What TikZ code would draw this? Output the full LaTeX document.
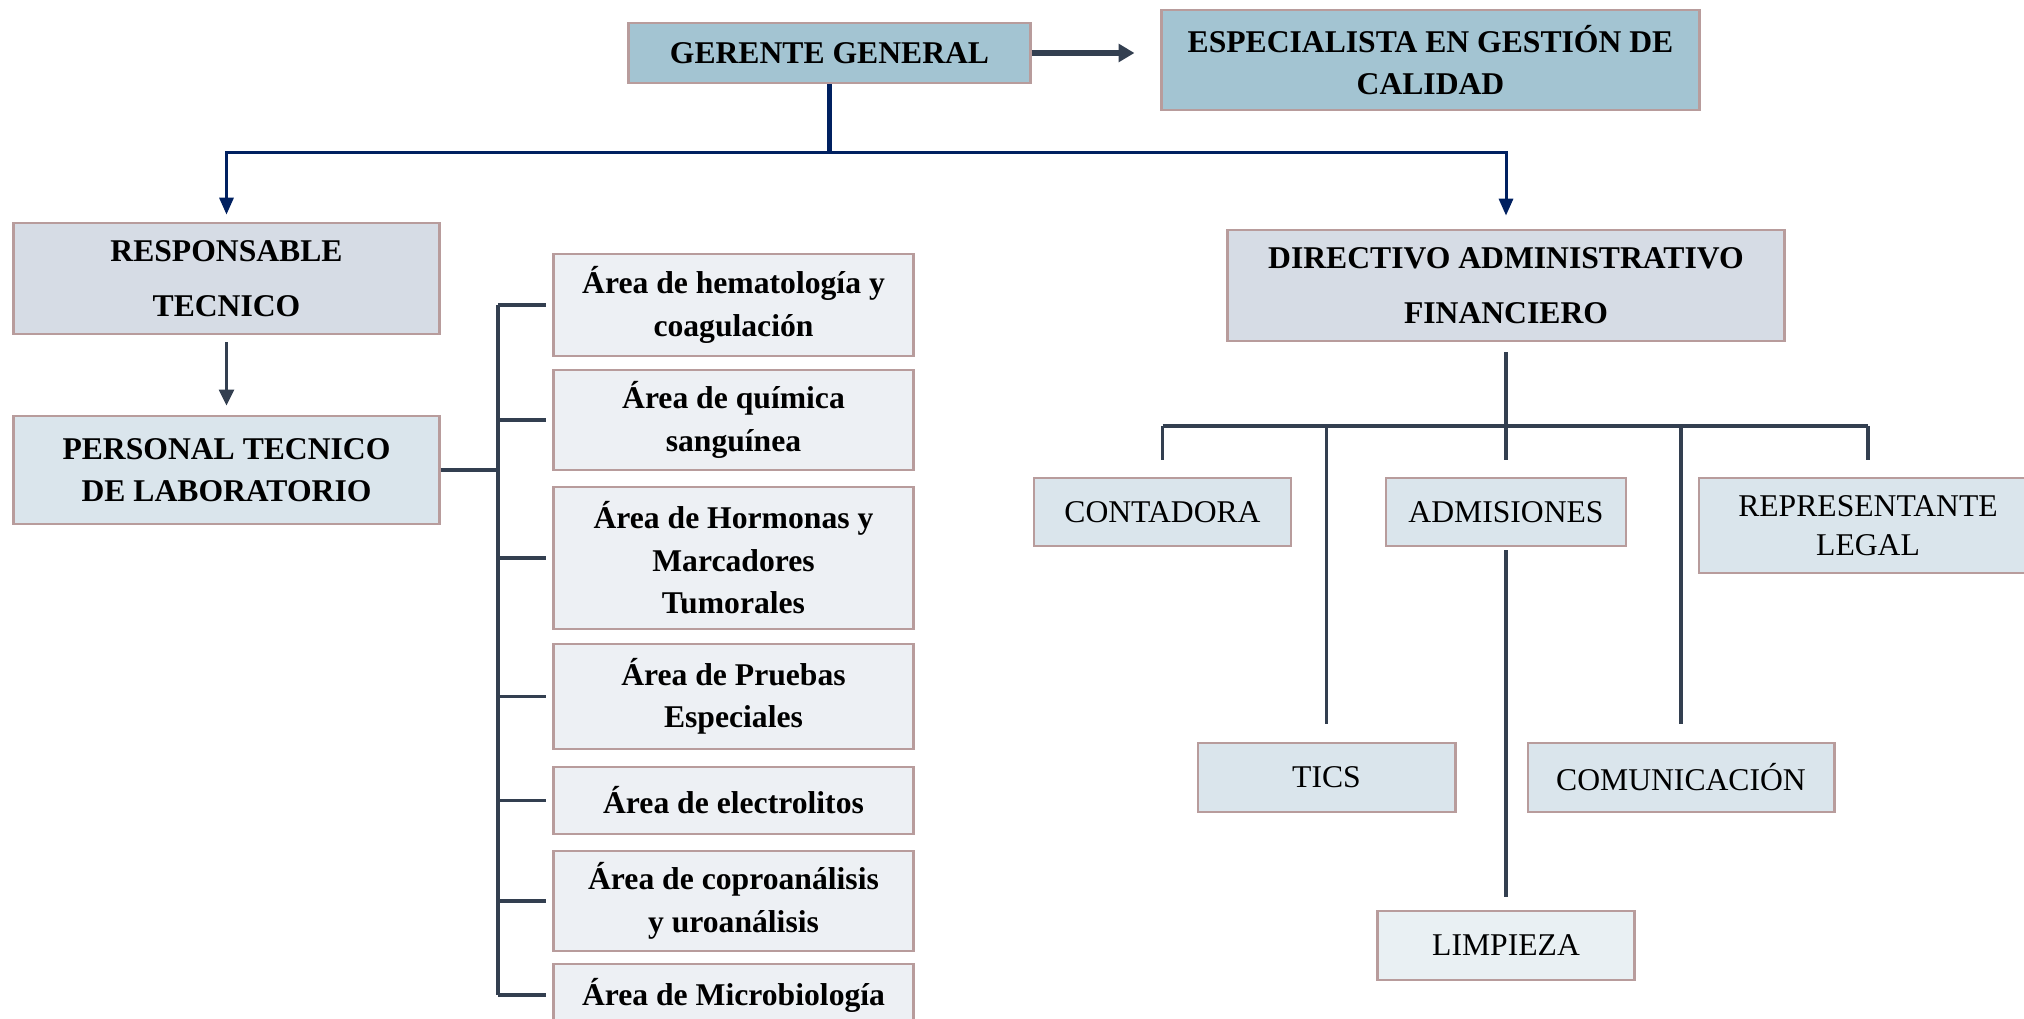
\documentclass[tikz,border=0pt]{standalone}
\usepackage{fontspec}
\setmainfont{Liberation Serif}
\usetikzlibrary{arrows.meta,positioning,calc}
\definecolor{OrgRim}{HTML}{B89C9C}
\definecolor{OrgTop}{HTML}{A3C4D2}
\definecolor{OrgHead}{HTML}{D6DCE5}
\definecolor{OrgMid}{HTML}{DAE5EC}
\definecolor{OrgArea}{HTML}{EDF0F4}
\definecolor{OrgLow}{HTML}{E9F0F3}
\definecolor{OrgSlate}{HTML}{333F50}
\definecolor{OrgNavy}{HTML}{002060}

\begin{document}
\begin{tikzpicture}[x=0.01cm,y=-0.01cm,
  orgbox/.style={draw=OrgRim,line width=0.8pt,align=center,inner sep=0pt,
    font=\fontsize{9}{12.1}\selectfont},
  boldbox/.style={orgbox,font=\bfseries\fontsize{9}{12.1}\selectfont},
  loosebox/.style={font=\bfseries\fontsize{9}{15.6}\selectfont},
  areabox/.style={boldbox,fill=OrgArea,minimum width=3.59cm},
  unitbox/.style={orgbox,fill=OrgMid,minimum height=0.68cm},
  slateline/.style={draw=OrgSlate,line width=1pt},
  navyline/.style={draw=OrgNavy,line width=0.85pt}]
  \useasboundingbox (0,0) rectangle (2024,1019);
  \clip (0,0) rectangle (2024,1019);
  % Top level
  \node[boldbox,fill=OrgTop,minimum width=4.01cm,minimum height=0.60cm]
    (gerente) at (829.5,53) {GERENTE GENERAL};
  \node[boldbox,fill=OrgTop,minimum width=5.37cm,minimum height=1.00cm]
    (especialista) at (1430.5,60) {ESPECIALISTA EN GESTIÓN DE\\CALIDAD};
  \node[boldbox,loosebox,fill=OrgHead,minimum width=4.25cm,minimum height=1.11cm]
    (responsable) at (226.5,278.5) {RESPONSABLE\\TECNICO};
  \node[boldbox,fill=OrgMid,minimum width=4.25cm,minimum height=1.08cm]
    (personal) at (226.5,470) {PERSONAL TECNICO\\DE LABORATORIO};
  \node[boldbox,loosebox,fill=OrgHead,minimum width=5.57cm,minimum height=1.11cm]
    (directivo) at (1506,285.5) {DIRECTIVO ADMINISTRATIVO\\FINANCIERO};
  % Laboratory areas
  \node[areabox,minimum height=1.02cm] (area1) at (733.5,305)
    {Área de hematología y\\coagulación};
  \node[areabox,minimum height=1.00cm] (area2) at (733.5,420)
    {Área de química\\sanguínea};
  \node[areabox,minimum height=1.42cm] (area3) at (733.5,558)
    {Área de Hormonas y\\Marcadores\\Tumorales};
  \node[areabox,minimum height=1.05cm] (area4) at (733.5,696.5)
    {Área de Pruebas\\Especiales};
  \node[areabox,minimum height=0.67cm] (area5) at (733.5,800.5)
    {Área de electrolitos};
  \node[areabox,minimum height=1.00cm] (area6) at (733.5,901)
    {Área de coproanálisis\\y uroanálisis};
  \node[areabox,minimum height=0.62cm] (area7) at (733.5,995)
    {Área de Microbiología};
  % Administrative units
  \node[unitbox,minimum width=2.57cm] (contadora) at (1162.5,512) {CONTADORA};
  \node[unitbox,minimum width=2.40cm] (admisiones) at (1506,512) {ADMISIONES};
  \node[unitbox,minimum width=3.38cm,minimum height=0.95cm,
    font=\fontsize{9}{11}\selectfont] (representante) at (1868,525.5)
    {REPRESENTANTE\\LEGAL};
  \node[unitbox,minimum width=2.57cm,minimum height=0.69cm] (tics)
    at (1326.5,777.5) {TICS};
  \node[unitbox,minimum width=3.06cm,minimum height=0.69cm] (comunicacion)
    at (1681,777.5) {COMUNICACIÓN};
  \node[unitbox,fill=OrgLow,minimum width=2.57cm,minimum height=0.69cm]
    (limpieza) at (1506,945.5) {LIMPIEZA};
  % Top connectors
  \draw[OrgSlate,line width=1.6pt,-{Triangle[length=4.5pt,width=5pt]},
    shorten >=0.26cm] (gerente.east) -- (gerente.east -| especialista.west);
  \coordinate (split) at (829.5,153);
  \draw[navyline,line width=1.6pt] (gerente) -- (split);
  \draw[navyline,-{Triangle[length=4.8pt,width=4pt]},shorten >=0.07cm]
    (split) -| (responsable);
  \draw[navyline,-{Triangle[length=4.8pt,width=4pt]},shorten >=0.13cm]
    (split) -| (directivo);
  % Technical branch
  \draw[slateline,line width=0.75pt,-{Triangle[length=4.5pt,width=4.2pt]},
    shorten <=0.07cm,shorten >=0.09cm] (responsable) -- (personal);
  \coordinate (lbus) at (498,470);
  \draw[slateline] (personal) -- (lbus);
  \draw[slateline] (lbus |- area1) -- (lbus |- area7);
  \foreach \n in {1,...,7}
    \draw[slateline,shorten >=0.06cm] (lbus |- area\n) -- (area\n);
  % Administrative branch
  \coordinate (rbus) at (1506,426);
  \draw[slateline,shorten <=0.10cm] (directivo) -- (rbus);
  \draw[slateline] (rbus -| contadora) -- (rbus -| representante);
  \foreach \n in {contadora,admisiones,representante}
    \draw[slateline,shorten >=0.17cm] (rbus -| \n) -- (\n);
  \foreach \n in {tics,comunicacion}
    \draw[slateline,shorten >=0.18cm] (rbus -| \n) -- (\n);
  \draw[slateline,shorten <=0.03cm,shorten >=0.13cm] (admisiones) -- (limpieza);
\end{tikzpicture}
\end{document}
